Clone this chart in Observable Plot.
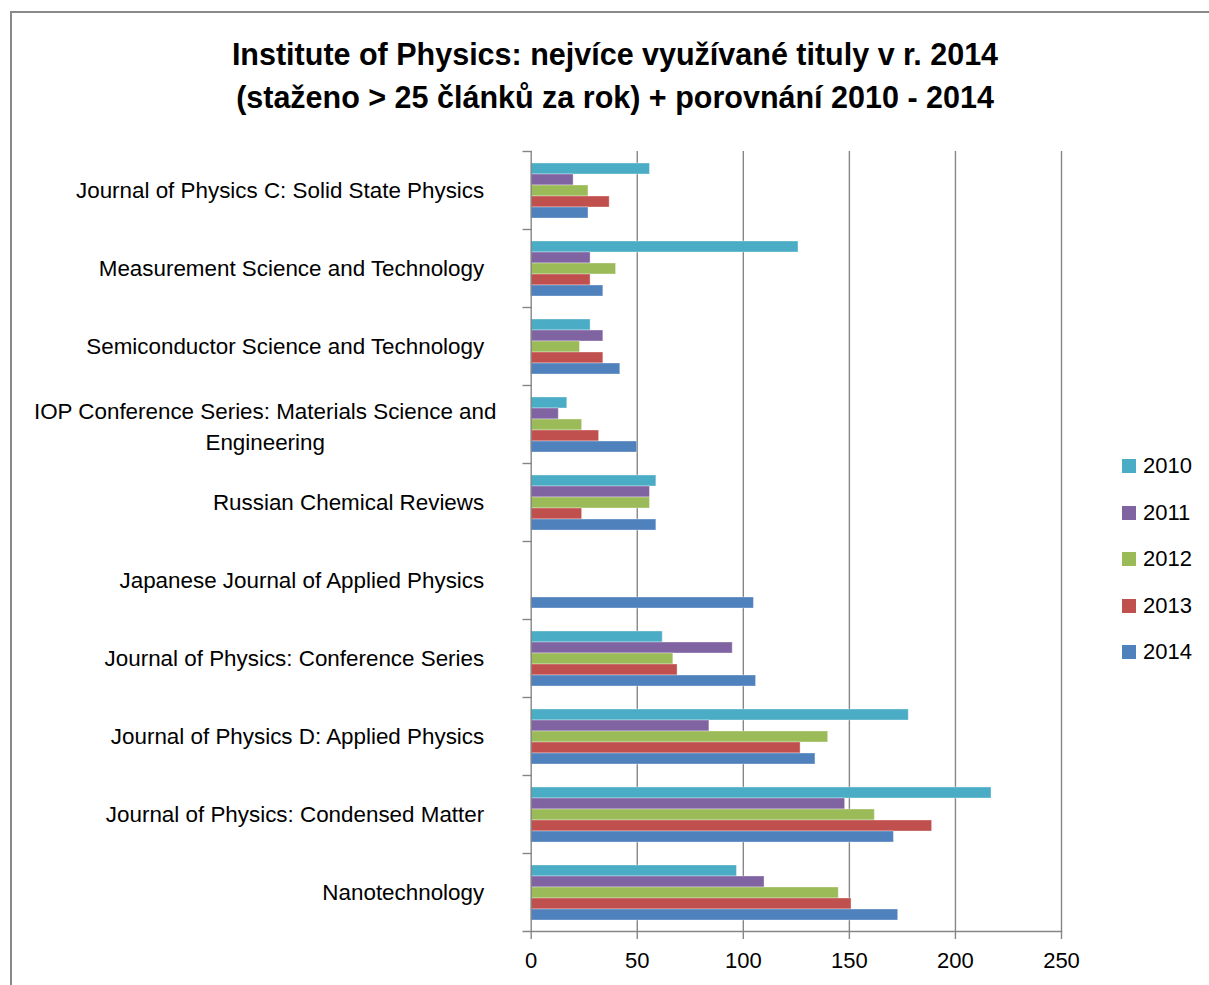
<!DOCTYPE html>
<html>
<head>
<meta charset="utf-8">
<script src="https://cdn.jsdelivr.net/npm/d3@7"></script>
<script src="https://cdn.jsdelivr.net/npm/@observablehq/plot@0.6"></script>
<style>
  html, body { margin: 0; padding: 0; background: #fff; }
  #wrap { position: relative; width: 1209px; height: 985px; overflow: hidden; font-family: "Liberation Sans", Arial, sans-serif; }
  #border { position: absolute; left: 10px; top: 11px; width: 1400px; height: 1200px; border-top: 2px solid #898989; border-left: 2px solid #898989; }
  #title { position: relative; height: 138px; padding-left: 21px; box-sizing: border-box; text-align: center; font-weight: bold; font-size: 30.5px; line-height: 43px; padding-top: 33px; color: #000; white-space: nowrap; }
  #chart { position: relative; }
  #legend { position: absolute; left: 1122px; top: 443px; font-size: 22px; color: #000; }
  .item { display: flex; align-items: center; height: 46.5px; }
  .sw { width: 14px; height: 14px; margin-right: 7px; }
</style>
</head>
<body>
<div id="wrap">
  <div id="border"></div>
  <div id="title">Institute of Physics: nejvíce využívané tituly v r. 2014<br>(staženo &gt; 25 článků za rok) + porovnání 2010 - 2014</div>
  <div id="chart"></div>
  <div id="legend"></div>
</div>
<script>
const journals = [
  "Journal of Physics C: Solid State Physics",
  "Measurement Science and Technology",
  "Semiconductor Science and Technology",
  "IOP Conference Series: Materials Science and Engineering",
  "Russian Chemical Reviews",
  "Japanese Journal of Applied Physics",
  "Journal of Physics: Conference Series",
  "Journal of Physics D: Applied Physics",
  "Journal of Physics: Condensed Matter",
  "Nanotechnology"
];
const years = ["2010", "2011", "2012", "2013", "2014"];
const v2010 = [56, 126, 28, 17, 59, null, 62, 178, 217, 97];
const v2011 = [20, 28, 34, 13, 56, null, 95, 84, 148, 110];
const v2012 = [27, 40, 23, 24, 56, null, 67, 140, 162, 145];
const v2013 = [37, 28, 34, 32, 24, null, 69, 127, 189, 151];
const v2014 = [27, 34, 42, 50, 59, 105, 106, 134, 171, 173];
const colors = ["#4BACC6", "#8064A2", "#9BBB59", "#C0504D", "#4F81BD"];
const xTicks = [0, 50, 100, 150, 200, 250];

const series = [v2010, v2011, v2012, v2013, v2014];
const rows = journals.flatMap((j, i) => years.map((yr, k) => ({journal: j, year: yr, value: series[k][i]})))
  .filter(d => d.value != null);

const iop = journals[3];
const gray = "#868686";

const chart = Plot.plot({
  width: 1209,
  height: 847,
  marginTop: 12,
  marginBottom: 53,
  marginLeft: 530.7,
  marginRight: 148,
  style: {fontFamily: "Liberation Sans, Arial, sans-serif", fontSize: "22px", color: "#000", background: "transparent"},
  x: {domain: [0, 250]},
  y: {domain: years, paddingInner: 0, paddingOuter: 0.758, axis: null},
  fy: {domain: journals, padding: 0},
  color: {domain: years, range: colors},
  marks: [
    Plot.gridX({ticks: xTicks.slice(1), stroke: gray, strokeOpacity: 1, strokeWidth: 1.4}),
    Plot.barX(rows, {fy: "journal", y: "year", x: "value", fill: "year", stroke: "white", strokeOpacity: 0.35, strokeWidth: 1}),
    Plot.ruleX([0], {stroke: gray, strokeWidth: 1.4}),
    Plot.frame({anchor: "top", insetLeft: -8, insetRight: 1209 - 530.7 - 148, stroke: gray, strokeWidth: 1.4}),
    Plot.frame({anchor: "bottom", facetAnchor: "bottom", insetLeft: -8, stroke: gray, strokeWidth: 1.4}),
    Plot.axisFy({anchor: "left", tickSize: 0, tickPadding: 47, fontSize: 22.4, label: null,
      tickFormat: d => d === iop ? "" : d}),
    Plot.text([iop], {fy: d => d, text: () => "IOP Conference Series: Materials Science and\nEngineering",
      frameAnchor: "left", textAnchor: "middle", dx: -266, fontSize: 22.4, lineHeight: 1.4, fill: "#000"}),
    Plot.axisX({ticks: xTicks, tickSize: 8, tickPadding: 13, fontSize: 22, stroke: gray, strokeWidth: 1.4, label: null})
  ]
});
document.getElementById("chart").appendChild(chart);

const legend = document.getElementById("legend");
years.forEach((yr, k) => {
  const item = document.createElement("div");
  item.className = "item";
  const sw = document.createElement("div");
  sw.className = "sw";
  sw.style.background = colors[k];
  item.appendChild(sw);
  const t = document.createElement("span");
  t.textContent = yr;
  item.appendChild(t);
  legend.appendChild(item);
});
</script>
</body>
</html>
